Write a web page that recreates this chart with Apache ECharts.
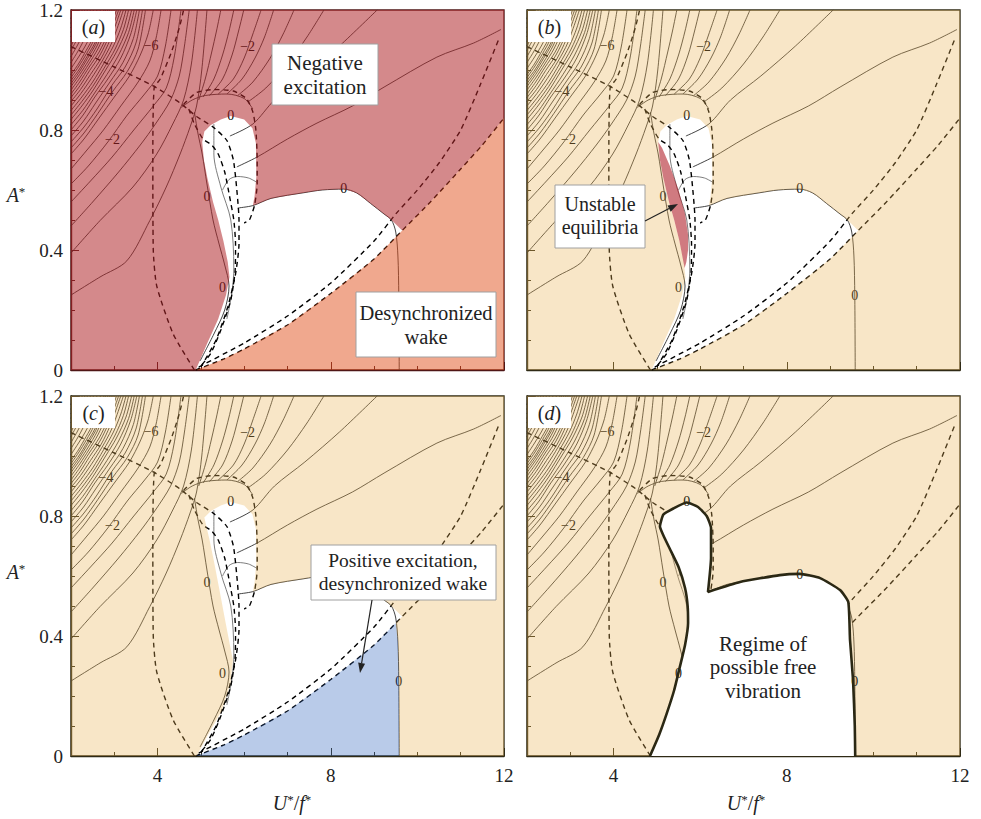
<!DOCTYPE html>
<html><head><meta charset="utf-8">
<script src="https://cdn.jsdelivr.net/npm/echarts@6/dist/echarts.min.js"></script>
<style>html,body{margin:0;padding:0;background:#fff}#c{width:981px;height:819px}</style>
</head><body><div id="c"></div>
<script>
// ---------------- data ----------------
const xTicks = [4, 8, 12];
const yTicks = [0, 0.4, 0.8, 1.2];
const panelTags = ['a', 'b', 'c', 'd'];

// contour lines of the left family (left edge -> top edge)
const leftContours = [
 [[2,0.25],[2.67,0.31],[3.29,0.364],[3.82,0.498],[4.2,0.61],[4.52,0.72],[4.75,0.81],[4.9,0.88],[5.02,1.0],[5.14,1.2]],
 [[2,0.39],[2.67,0.498],[3.43,0.61],[3.98,0.72],[4.35,0.82],[4.6,0.9],[4.78,1.02],[4.92,1.2]],
 [[2,0.48],[2.5,0.56],[3.1,0.66],[3.6,0.75],[3.95,0.82],[4.3,0.9],[4.5,0.98],[4.62,1.08],[4.73,1.2]],
 [[2,0.56],[2.45,0.63],[2.95,0.71],[3.45,0.8],[3.9,0.88],[4.2,0.94],[4.38,1.04],[4.54,1.2]],
 [[2,0.62],[2.4,0.68],[2.85,0.76],[3.3,0.85],[3.7,0.92],[4.0,0.98],[4.18,1.08],[4.31,1.2]],
 [[2,0.67],[2.35,0.73],[2.75,0.8],[3.15,0.88],[3.55,0.96],[3.82,1.03],[3.97,1.11],[4.08,1.2]],
 [[2,0.72],[2.3,0.77],[2.65,0.84],[3.0,0.91],[3.35,0.98],[3.6,1.05],[3.78,1.12],[3.9,1.2]],
 [[2,0.74],[2.3,0.79],[2.62,0.855],[2.97,0.93],[3.3,0.995],[3.55,1.07],[3.72,1.2]],
 [[2,0.76],[2.3,0.81],[2.6,0.87],[2.95,0.95],[3.25,1.01],[3.5,1.09],[3.65,1.2]],
 [[2,0.78],[2.29,0.83],[2.57,0.89],[2.9,0.96],[3.2,1.025],[3.44,1.105],[3.58,1.2]],
 [[2,0.8],[2.28,0.85],[2.55,0.91],[2.85,0.97],[3.15,1.04],[3.38,1.12],[3.52,1.2]],
 [[2,0.818],[2.27,0.865],[2.53,0.92],[2.83,0.985],[3.1,1.05],[3.33,1.125],[3.46,1.2]],
 [[2,0.835],[2.25,0.88],[2.5,0.93],[2.8,1.0],[3.05,1.06],[3.27,1.13],[3.4,1.2]],
 [[2,0.85],[2.25,0.895],[2.5,0.945],[2.78,1.01],[3.02,1.07],[3.21,1.135],[3.33,1.2]],
 [[2,0.865],[2.25,0.91],[2.5,0.96],[2.75,1.02],[2.98,1.08],[3.15,1.14],[3.27,1.2]],
 [[2,0.88],[2.23,0.922],[2.47,0.972],[2.72,1.03],[2.94,1.09],[3.21,1.2]],
 [[2,0.895],[2.22,0.935],[2.45,0.985],[2.7,1.04],[2.9,1.1],[3.15,1.2]],
 [[2,0.908],[2.21,0.948],[2.43,0.998],[2.67,1.05],[2.87,1.11],[3.1,1.2]],
 [[2,0.92],[2.2,0.96],[2.42,1.01],[2.65,1.06],[2.85,1.12],[3.05,1.2]],
 [[2,0.933],[2.2,0.973],[2.41,1.02],[2.62,1.07],[2.81,1.13],[3.0,1.2]],
 [[2,0.945],[2.2,0.985],[2.4,1.03],[2.6,1.08],[2.78,1.14],[2.95,1.2]],
 [[2,0.955],[2.19,0.993],[2.38,1.038],[2.57,1.085],[2.75,1.145],[2.9,1.2]],
 [[2,0.965],[2.18,1.0],[2.37,1.045],[2.55,1.09],[2.72,1.15],[2.85,1.2]],
 [[2,0.975],[2.17,1.01],[2.36,1.055],[2.53,1.1],[2.8,1.2]],
 [[2,0.985],[2.17,1.02],[2.35,1.065],[2.52,1.11],[2.76,1.2]],
 [[2,1.005],[2.16,1.04],[2.33,1.08],[2.5,1.13],[2.68,1.2]],
 [[2,1.025],[2.15,1.06],[2.3,1.1],[2.45,1.15],[2.6,1.2]],
 [[2,1.045],[2.14,1.08],[2.28,1.12],[2.4,1.16],[2.52,1.2]],
 [[2,1.065],[2.13,1.1],[2.26,1.14],[2.45,1.2]],
 [[2,1.08],[2.12,1.115],[2.25,1.155],[2.38,1.2]],
 [[2,1.095],[2.2,1.16],[2.32,1.2]],
 [[2,1.11],[2.26,1.2]],
 [[2,1.125],[2.2,1.2]],
 [[2,1.14],[2.15,1.2]],
 [[2,1.155],[2.1,1.2]],
 [[2,1.17],[2.05,1.2]]
];

// contour lines fanning out from the hub above the tongue
const hubContours = [
 [[4.95,0.9],[5.1,0.97],[5.25,1.06],[5.36,1.13],[5.46,1.2]],
 [[5.05,0.91],[5.3,0.97],[5.5,1.05],[5.65,1.13],[5.76,1.2]],
 [[5.2,0.915],[5.5,0.97],[5.72,1.05],[5.87,1.13],[5.99,1.2]],
 [[5.4,0.92],[5.75,0.97],[6.0,1.04],[6.2,1.12],[6.39,1.2]],
 [[5.6,0.92],[5.95,0.97],[6.25,1.04],[6.47,1.11],[6.68,1.2]],
 [[5.85,0.915],[6.2,0.96],[6.6,1.04],[6.9,1.12],[7.15,1.2]],
 [[6.1,0.895],[6.5,0.94],[7.0,1.02],[7.45,1.11],[7.84,1.2]],
 [[5.67,0.78],[6.2,0.82],[6.7,0.9],[7.4,0.98],[8.2,1.08],[9.07,1.2]],
 [[5.83,0.677],[6.3,0.71],[7.0,0.77],[7.68,0.823],[8.5,0.88],[9.23,0.943],[10.45,1.043],[11.3,1.09],[11.93,1.135]],
 [[4.55,0.875],[4.8,0.9],[5.1,0.915],[5.6,0.92],[6.0,0.905],[6.2,0.87]]
];

// thin contours inside the tongue
const tongueContours = [
 [[5.3,0.82],[5.3,0.72],[5.46,0.61],[5.69,0.5],[5.76,0.34],[5.72,0.26],[5.6,0.17]],
 [[5.5,0.6],[5.65,0.635],[5.85,0.645],[6.1,0.64],[6.3,0.625]]
];

// zero-level contours
const zeroContours = [
 [[4.85,0.86],[4.93,0.79],[5.03,0.72],[5.14,0.62],[5.28,0.5],[5.42,0.42],[5.55,0.35],[5.65,0.28],[5.55,0.2],[5.3,0.12],[4.98,0.03]],
 [[5.85,0.54],[6.2,0.548],[6.62,0.572],[7.38,0.591],[7.8,0.6],[8.3,0.603],[8.6,0.59],[8.92,0.555],[9.23,0.52],[9.4,0.5],[9.5,0.46],[9.55,0.38],[9.57,0.25],[9.58,0.0]]
];

// dashed boundaries
const dashedEllipse = [[4.85,0],[4.36,0.12],[3.98,0.28],[3.9,0.4],[3.89,0.7],[3.92,0.94],[4.06,0.97],[4.31,1.056],[4.5,1.14],[4.6,1.2]];
const dashedDiagonal = [[2,1.078],[3,1.01],[3.9,0.947],[4.52,0.89],[4.9,0.845],[5.28,0.81],[5.6,0.765],[5.75,0.7],[5.83,0.6],[5.88,0.5],[5.88,0.42],[5.8,0.32],[5.62,0.21],[5.35,0.1],[5.0,0.01]];
const dashedInner = [[4.72,0.87],[4.85,0.82],[5.05,0.77],[5.25,0.75],[5.4,0.72],[5.55,0.66],[5.66,0.58],[5.76,0.5],[5.8,0.42],[5.79,0.33],[5.69,0.233],[5.46,0.133],[5.23,0.056],[4.95,0.005]];
const dashedArc = [[4.6,0.885],[4.9,0.925],[5.3,0.935],[5.75,0.93],[6.05,0.905],[6.2,0.86],[6.27,0.8],[6.3,0.7],[6.3,0.62],[6.24,0.55],[6.12,0.5],[6.0,0.49]];
const dashedUpper = [[4.95,0.01],[6,0.09],[7,0.18],[8,0.29],[9,0.43],[9.5,0.52],[10,0.6],[10.5,0.69],[11,0.8],[11.45,0.95],[11.9,1.11]];

// region boundaries
const desyncLow = [[4.88,0],[5.5,0.035],[6,0.07],[7,0.15],[8,0.255],[9,0.37],[9.65,0.465]];
const desyncHigh = [[10.3,0.56],[11,0.67],[11.5,0.75],[12,0.84]];
const whiteLeftA = [[4.88,0],[5.15,0.09],[5.4,0.17],[5.58,0.25],[5.66,0.31],[5.62,0.36],[5.52,0.43],[5.4,0.5],[5.28,0.56],[5.15,0.64],[5.07,0.7],[5.03,0.76]];
const whiteLeftC = [[4.9,0],[5.2,0.08],[5.48,0.15],[5.68,0.24],[5.74,0.32],[5.67,0.37],[5.55,0.46],[5.42,0.56],[5.3,0.65],[5.2,0.72],[5.12,0.77]];
const tongueTop = [[5.08,0.795],[5.23,0.817],[5.46,0.835],[5.69,0.847],[6.0,0.835],[6.19,0.806],[6.27,0.756],[6.28,0.644],[6.24,0.58],[6.2,0.548]];
const whiteTop = [[6.62,0.572],[7.38,0.591],[7.8,0.6],[8.3,0.603],[8.6,0.59],[8.92,0.555],[9.23,0.52],[9.4,0.5],[9.65,0.465]];
const unstableRegion = [[5.64,0.34],[5.52,0.43],[5.4,0.5],[5.28,0.56],[5.15,0.64],[5.07,0.7],[5.03,0.76],[5.12,0.74],[5.3,0.68],[5.5,0.6],[5.65,0.52],[5.72,0.45],[5.72,0.4],[5.68,0.36]];
const blueEdge = [[9.5,0.443],[9.55,0.38],[9.57,0.25],[9.58,0]];
const freeRegion = [[4.84,0],[5.05,0.07],[5.23,0.143],[5.4,0.22],[5.53,0.297],[5.65,0.37],[5.72,0.443],[5.71,0.5],[5.65,0.56],[5.5,0.63],[5.3,0.69],[5.15,0.735],[5.07,0.765],[5.15,0.805],[5.38,0.825],[5.69,0.845],[5.95,0.83],[6.15,0.8],[6.25,0.76],[6.25,0.66],[6.18,0.547],[6.92,0.58],[7.84,0.603],[8.3,0.607],[8.77,0.593],[9.23,0.553],[9.42,0.513],[9.46,0.387],[9.53,0.253],[9.57,0.1],[9.58,0]];

// contour labels
const contourLabels = [[3.85,1.083,'\u22126'],[2.81,0.928,'\u22124'],[2.96,0.767,'\u22122'],[6.08,1.08,'\u22122'],[5.14,0.577,'0']];
const zeroLabels = [[5.69,0.848,'0'],[5.5,0.275,'0'],[8.3,0.605,'0'],[9.57,0.25,'0']];

// ---------------- chart ----------------
const FONT = 'Liberation Serif';
const gridPos = [[71,10],[527,10],[71,396],[527,396]];
const frameColor = ['#4f1616','#2f2a15','#2f2a15','#2f2a15'];
const W = 433, H = 360;

const grid = gridPos.map((p,i)=>({left:p[0], top:p[1], width:W, height:H, show:true,
  borderColor:frameColor[i], borderWidth:1.4, backgroundColor:'transparent', outerBoundsMode:'none'}));

const xAxis = [], yAxis = [];
gridPos.forEach((p,i)=>{
  const showX = i >= 2, showY = i % 2 === 0;
  xAxis.push({gridIndex:i, type:'value', min:2, max:12, interval:1, position:'bottom',
    axisLine:{show:true, onZero:false, lineStyle:{color:frameColor[i], width:1.4}},
    axisTick:{show:true, inside:true, length:4, lineStyle:{color:frameColor[i], width:1}},
    axisLabel:{show:showX, margin:10, fontFamily:FONT, fontSize:19, color:'#222',
      formatter:v=>xTicks.indexOf(v) >= 0 ? String(v) : ''},
    splitLine:{show:false}});
  xAxis.push({gridIndex:i, type:'value', min:2, max:12, position:'bottom',
    axisLine:{show:false, onZero:false},
    axisTick:{show:true, inside:true, length:8, customValues:xTicks, lineStyle:{color:frameColor[i], width:1}},
    axisLabel:{show:false}, splitLine:{show:false}});
  yAxis.push({gridIndex:i, type:'value', min:0, max:1.2, interval:0.1, position:'left',
    axisLine:{show:true, onZero:false, lineStyle:{color:frameColor[i], width:1.4}},
    axisTick:{show:true, inside:true, length:4, lineStyle:{color:frameColor[i], width:1}},
    axisLabel:{show:showY, margin:8, fontFamily:FONT, fontSize:19, color:'#222',
      formatter:v=>{const t = yTicks.find(t=>Math.abs(t-v) < 1e-6); return t === undefined ? '' : String(t);}},
    splitLine:{show:false}});
  yAxis.push({gridIndex:i, type:'value', min:0, max:1.2, position:'left',
    axisLine:{show:false, onZero:false},
    axisTick:{show:true, inside:true, length:8, customValues:yTicks, lineStyle:{color:frameColor[i], width:1}},
    axisLabel:{show:false}, splitLine:{show:false}});
});

const series = [];
function addLine(i, data, style, z, smooth){
  series.push({type:'line', xAxisIndex:2*i, yAxisIndex:2*i, data:data, symbol:'none', showSymbol:false,
    smooth: smooth === undefined ? 0.3 : smooth, silent:true, animation:false, z:z||2, lineStyle:style});
}
function addPoly(i, poly, fill, z){
  series.push({type:'custom', xAxisIndex:2*i, yAxisIndex:2*i, data:poly, z:z, silent:true, animation:false, clip:true,
    renderItem:(params, api)=>{
      if (params.dataIndex !== 0) return null;
      return {type:'polygon', shape:{points:poly.map(pt=>api.coord(pt))}, style:{fill:fill}};
    }});
}
function addLabels(i, labels, z, bg, color){
  series.push({type:'custom', xAxisIndex:2*i, yAxisIndex:2*i, z:z, silent:true, animation:false, clip:false,
    data:labels.map(l=>[l[0], l[1]]),
    renderItem:(params, api)=>{
      const l = labels[params.dataIndex];
      const pt = api.coord([l[0], l[1]]);
      return {type:'text', x:pt[0], y:pt[1], style:{text:l[2], fill:color, fontFamily:FONT, fontSize:14,
        align:'center', verticalAlign:'middle', backgroundColor:bg, padding:[0,1]}};
    }});
}

const thin = {color:'#222', width:0.85};
const thinIn = {color:'#666', width:0.85};
const dash = {color:'#000', width:1.4, type:[5,4]};
const desyncAll = desyncLow.concat(desyncHigh);

for (let i = 0; i < 4; i++) {
  leftContours.forEach(c=>addLine(i, c, thin));
  hubContours.forEach(c=>addLine(i, c, thin));
  tongueContours.forEach(c=>addLine(i, c, thinIn));
  zeroContours.forEach(c=>addLine(i, c, thin));
  [dashedEllipse, dashedDiagonal, dashedInner, dashedArc, dashedUpper, desyncAll].forEach(c=>addLine(i, c, dash, 2, 0.2));
  addLabels(i, contourLabels, 2, '#fff', '#000');
}
// zero labels visible (not under an annotation box)
addLabels(0, [zeroLabels[0], zeroLabels[1], zeroLabels[2]], 2, '#fff', '#000');
addLabels(1, zeroLabels, 2, '#fff', '#000');
addLabels(2, [zeroLabels[0], zeroLabels[1], zeroLabels[3]], 2, '#fff', '#000');

const BEIGE = 'rgba(233,179,85,0.33)';
// panel (a): negative excitation + desynchronized wake
addPoly(0, [[2,0]].concat(whiteLeftA, tongueTop, whiteTop, desyncHigh, [[12,1.2],[2,1.2]]), 'rgba(177,40,44,0.55)', 3);
addPoly(0, desyncLow.concat(desyncHigh, [[12,0]]), 'rgba(225,81,29,0.5)', 3);
// panel (b)
addPoly(1, [[2,0]].concat(whiteLeftA, tongueTop, whiteTop, desyncLow.slice(0,6).reverse(), [[12,0],[12,1.2],[2,1.2]]), BEIGE, 3);
addPoly(1, unstableRegion, 'rgba(170,13,24,0.55)', 3);
// panel (c)
addPoly(2, [[2,0]].concat(whiteLeftC, tongueTop, whiteTop, blueEdge, [[12,0],[12,1.2],[2,1.2]]), BEIGE, 3);
addPoly(2, desyncLow.slice(0,6).concat(blueEdge), 'rgba(55,106,192,0.35)', 3);
// panel (d)
addPoly(3, [[2,0],[12,0],[12,1.2],[2,1.2]], BEIGE, 3);
addPoly(3, freeRegion, '#ffffff', 4);
addLine(3, freeRegion, {color:'#2b2814', width:2.6}, 5, 0.15);
addLabels(3, zeroLabels, 6, 'rgba(0,0,0,0)', '#2b2814');

// ---------------- annotations ----------------
const graphic = [];
const tagPos = [[72,11],[528,11],[72,397],[528,397]];
const richBase = {
  n:{fontFamily:FONT, fontSize:20, fill:'#222'},
  i:{fontFamily:FONT, fontSize:20, fontStyle:'italic', fill:'#222'},
  s:{fontFamily:FONT, fontSize:13, fill:'#222', verticalAlign:'top'}
};
tagPos.forEach((p,i)=>{
  graphic.push({type:'rect', shape:{x:p[0], y:p[1], width:43, height:31}, style:{fill:'#fff'}, z:100, silent:true});
  graphic.push({type:'text', x:p[0]+21.5, y:p[1]+16, z:101, silent:true,
    style:{text:'{n|(}{i|' + panelTags[i] + '}{n|)}', rich:richBase, align:'center', verticalAlign:'middle'}});
});
[[16,195],[16,572]].forEach(p=>graphic.push({type:'text', x:p[0], y:p[1], z:101, silent:true,
  style:{text:'{i|A}{s|*}', rich:richBase, align:'center', verticalAlign:'middle'}}));
[[292,803],[746,803]].forEach(p=>graphic.push({type:'text', x:p[0], y:p[1], z:101, silent:true,
  style:{text:'{i|U}{s|*}{n|/}{i|f}{s|*}', rich:richBase, align:'center', verticalAlign:'middle'}}));

function textLines(lines, cx, cy, fs, lh){
  const top = cy - (lines.length - 1) * lh / 2;
  lines.forEach((t, k)=>graphic.push({type:'text', x:cx, y:top + k*lh, z:101, silent:true,
    style:{text:t, fontFamily:FONT, fontSize:fs, fill:'#222', align:'center', verticalAlign:'middle'}}));
}
function box(x, y, w, h, lines, cx, cy, fs, lh){
  graphic.push({type:'rect', shape:{x:x, y:y, width:w, height:h}, style:{fill:'#fff', stroke:'#a0a0a0', lineWidth:1}, z:100, silent:true});
  textLines(lines, cx, cy, fs, lh);
}
box(272, 44, 106, 61, ['Negative','excitation'], 325, 75, 21, 24);
box(356, 292, 140, 65, ['Desynchronized','wake'], 426, 325, 20.5, 24);
box(555, 185, 90, 63, ['Unstable','equilibria'], 600, 215, 20, 23);
box(311, 545, 185, 55, ['Positive excitation,','desynchronized wake'], 403, 572, 19.5, 23);
textLines(['Regime of','possible free','vibration'], 763, 667, 21, 23.5);

function arrow(x1, y1, x2, y2){
  const a = Math.atan2(y2-y1, x2-x1), L = 10, Wd = 3.5;
  const bx = x2 - L*Math.cos(a), by = y2 - L*Math.sin(a);
  const px = -Math.sin(a)*Wd, py = Math.cos(a)*Wd;
  graphic.push({type:'line', shape:{x1:x1, y1:y1, x2:bx, y2:by}, style:{stroke:'#222', lineWidth:1.2}, z:102, silent:true});
  graphic.push({type:'polygon', shape:{points:[[x2,y2],[bx+px,by+py],[bx-px,by-py]]}, style:{fill:'#222'}, z:102, silent:true});
}
arrow(645, 221, 678, 204);
arrow(372, 600, 360, 673);

const chart = echarts.init(document.getElementById('c'), null, {renderer:'svg', width:981, height:819});
chart.setOption({animation:false, backgroundColor:'#fff', grid:grid, xAxis:xAxis, yAxis:yAxis, series:series, graphic:graphic});
</script></body></html>
